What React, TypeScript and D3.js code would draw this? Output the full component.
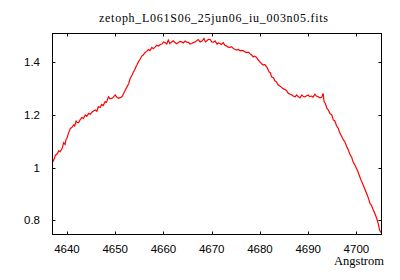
import * as d3 from "d3";

const W = 400;
const H = 280;

const title = "zetoph_L061S06_25jun06_iu_003n05.fits";
const xLabel = "Angstrom";
const xTicks = [4640, 4650, 4660, 4670, 4680, 4690, 4700];
const yTicks = [0.8, 1, 1.2, 1.4];

// ~0.3-0.4 A apart
const wavelength = [
  4637.1, 4637.4, 4637.6, 4638.0, 4638.3, 4638.6, 4639.0, 4639.3, 4639.6, 4639.8,
  4640.0, 4640.3, 4640.7, 4641.0, 4641.4, 4641.6, 4641.9, 4642.1, 4642.4, 4642.7,
  4643.1, 4643.4, 4643.8, 4644.1, 4644.5, 4644.8, 4645.2, 4645.5, 4645.9, 4646.2,
  4646.5, 4646.9, 4647.2, 4647.5, 4647.9, 4648.2, 4648.6, 4648.9, 4649.3, 4649.6,
  4650.0, 4650.3, 4650.7, 4651.0, 4651.4, 4651.7, 4652.1, 4652.4, 4652.8, 4653.1,
  4653.4, 4653.8, 4654.0, 4654.3, 4654.5, 4654.8, 4655.1, 4655.5, 4655.8, 4656.2,
  4656.5, 4656.9, 4657.2, 4657.6, 4657.9, 4658.3, 4658.6, 4659.0, 4659.3, 4659.7,
  4660.0, 4660.4, 4660.7, 4661.0, 4661.3, 4661.7, 4662.0, 4662.4, 4662.7, 4663.1,
  4663.4, 4663.8, 4664.1, 4664.5, 4664.8, 4665.2, 4665.5, 4665.9, 4666.2, 4666.6,
  4666.9, 4667.2, 4667.6, 4668.0, 4668.4, 4668.7, 4669.0, 4669.3, 4669.7, 4670.0,
  4670.4, 4670.7, 4671.1, 4671.4, 4671.7, 4672.0, 4672.4, 4672.7, 4673.1, 4673.4,
  4673.8, 4674.1, 4674.5, 4674.8, 4675.2, 4675.5, 4675.9, 4676.2, 4676.6, 4676.9,
  4677.3, 4677.6, 4678.0, 4678.3, 4678.6, 4678.9, 4679.3, 4679.6, 4680.0, 4680.3,
  4680.7, 4681.0, 4681.4, 4681.6, 4681.9, 4682.2, 4682.4, 4682.8, 4683.1, 4683.4,
  4683.8, 4684.1, 4684.5, 4684.8, 4685.2, 4685.5, 4685.9, 4686.2, 4686.6, 4686.9,
  4687.3, 4687.6, 4688.0, 4688.3, 4688.7, 4689.0, 4689.3, 4689.6, 4690.0, 4690.3,
  4690.7, 4691.0, 4691.4, 4691.7, 4692.1, 4692.4, 4692.8, 4693.1, 4693.3, 4693.5,
  4693.9, 4694.2, 4694.5, 4694.9, 4695.2, 4695.5, 4695.9, 4696.2, 4696.6, 4696.9,
  4697.3, 4697.6, 4698.0, 4698.3, 4698.7, 4699.0, 4699.3, 4699.6, 4700.0, 4700.3,
  4700.7, 4701.0, 4701.4, 4701.7, 4702.1, 4702.4, 4702.8, 4703.1, 4703.5, 4703.8,
  4704.2, 4704.5, 4704.8, 4705.2,
];

const flux = [
  1.022, 1.035, 1.047, 1.052, 1.064, 1.06, 1.073, 1.094, 1.088, 1.107,
  1.112, 1.13, 1.149, 1.152, 1.162, 1.158, 1.177, 1.172, 1.17, 1.181,
  1.191, 1.186, 1.2, 1.195, 1.206, 1.202, 1.211, 1.215, 1.219, 1.214,
  1.231, 1.229, 1.24, 1.236, 1.25, 1.248, 1.269, 1.262, 1.263, 1.268,
  1.276, 1.268, 1.263, 1.266, 1.269, 1.28, 1.295, 1.305, 1.32, 1.339,
  1.348, 1.364, 1.37, 1.383, 1.39, 1.402, 1.41, 1.424, 1.428, 1.438,
  1.442, 1.449, 1.445, 1.457, 1.452, 1.459, 1.465, 1.462, 1.468, 1.47,
  1.478, 1.475, 1.47, 1.485, 1.472, 1.478, 1.482, 1.476, 1.471, 1.476,
  1.48, 1.478, 1.474, 1.481, 1.477, 1.476, 1.47, 1.472, 1.476, 1.478,
  1.483, 1.487, 1.478, 1.481, 1.491, 1.478, 1.482, 1.488, 1.487, 1.478,
  1.477, 1.482, 1.47, 1.474, 1.472, 1.468, 1.475, 1.466, 1.462, 1.458,
  1.457, 1.46, 1.453, 1.45, 1.447, 1.449, 1.444, 1.446, 1.444, 1.44,
  1.437, 1.439, 1.432, 1.428, 1.421, 1.424, 1.419, 1.41, 1.402, 1.396,
  1.39, 1.392, 1.383, 1.376, 1.364, 1.36, 1.345, 1.342, 1.33, 1.326,
  1.314, 1.31, 1.305, 1.3, 1.297, 1.293, 1.282, 1.28, 1.276, 1.272,
  1.269, 1.276, 1.269, 1.265, 1.276, 1.27, 1.269, 1.272, 1.276, 1.27,
  1.272, 1.268, 1.279, 1.272, 1.269, 1.265, 1.267, 1.282, 1.25, 1.246,
  1.225, 1.218, 1.206, 1.2, 1.181, 1.178, 1.158, 1.15, 1.13, 1.12,
  1.105, 1.098, 1.079, 1.068, 1.048, 1.04, 1.022, 1.012, 0.997, 0.985,
  0.965, 0.95, 0.933, 0.92, 0.902, 0.888, 0.864, 0.856, 0.838, 0.826,
  0.807, 0.788, 0.762, 0.75,
];

const left = 52.5;
const right = 381.5;
const top = 33.5;
const bottom = 234.5;
const tick = 3;

export default function App() {
  const x = d3.scaleLinear().domain([4637.0, 4705.2]).range([left, right]);
  const y = d3.scaleLinear().domain([0.745, 1.51]).range([bottom, top]);

  const points = wavelength.map((w, i) => [w, flux[i]] as [number, number]);
  const line = d3
    .line<[number, number]>()
    .x((d) => x(d[0]))
    .y((d) => y(d[1]));

  return (
    <svg
      width={W}
      height={H}
      style={{ position: "absolute", left: 0, top: 0, background: "#fff" }}
    >
      <rect x={0} y={0} width={W} height={H} fill="#fff" />
      <text
        x={213.5}
        y={22}
        textAnchor="middle"
        fontFamily="'Liberation Serif', serif"
        fontSize={12}
        textLength={229}
        lengthAdjust="spacing"
        fill="#000"
      >
        {title}
      </text>

      <g clipPath="url(#plotclip)">
        <defs>
          <clipPath id="plotclip">
            <rect x={left} y={top} width={right - left} height={bottom - top} />
          </clipPath>
        </defs>
        <path d={line(points) ?? ""} fill="none" stroke="#ff0000" strokeWidth={1.2} />
      </g>

      {xTicks.map((t) => (
        <g key={`x-${t}`}>
          <line x1={Math.round(x(t)) + 0.5} x2={Math.round(x(t)) + 0.5} y1={bottom} y2={bottom - tick} stroke="#000" />
          <line x1={Math.round(x(t)) + 0.5} x2={Math.round(x(t)) + 0.5} y1={top} y2={top + tick} stroke="#000" />
          <text
            x={x(t)}
            y={252.5}
            textAnchor="middle"
            fontFamily="'Liberation Sans', Arial, sans-serif"
            fontSize={11.5}
            fill="#000"
          >
            {t}
          </text>
        </g>
      ))}

      {yTicks.map((t) => (
        <g key={`y-${t}`}>
          <line x1={left} x2={left + tick} y1={Math.round(y(t)) + 0.5} y2={Math.round(y(t)) + 0.5} stroke="#000" />
          <line x1={right} x2={right - tick} y1={Math.round(y(t)) + 0.5} y2={Math.round(y(t)) + 0.5} stroke="#000" />
          <text
            x={40}
            y={y(t) + 4}
            textAnchor="end"
            fontFamily="'Liberation Sans', Arial, sans-serif"
            fontSize={11.5}
            fill="#000"
          >
            {t}
          </text>
        </g>
      ))}

      <rect
        x={left}
        y={top}
        width={right - left}
        height={bottom - top}
        fill="none"
        stroke="#000"
        strokeWidth={1}
      />

      <text
        x={384}
        y={265}
        textAnchor="end"
        fontFamily="'Liberation Serif', serif"
        fontSize={12.5}
        fill="#000"
      >
        {xLabel}
      </text>
    </svg>
  );
}
